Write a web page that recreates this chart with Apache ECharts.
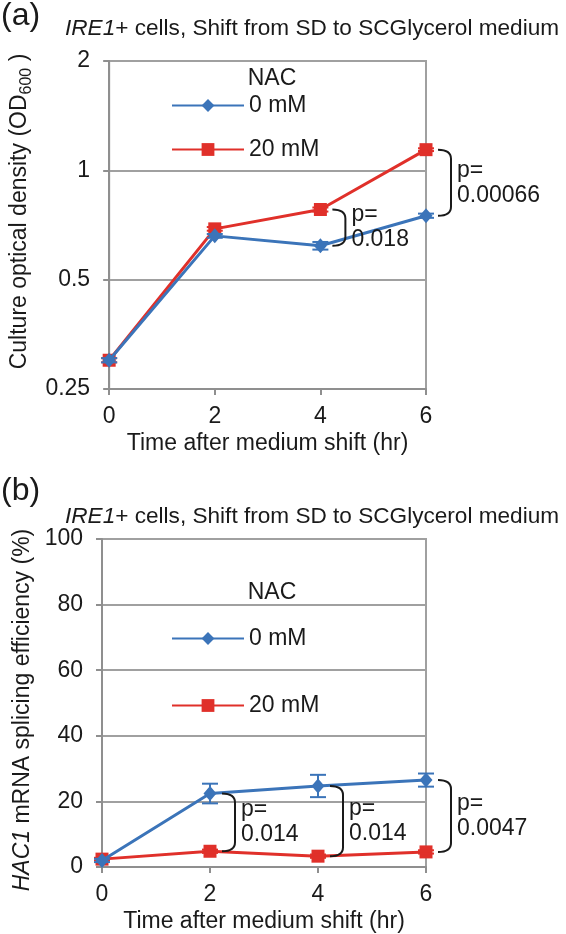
<!DOCTYPE html>
<html><head><meta charset="utf-8">
<script src="https://cdn.jsdelivr.net/npm/echarts@6/dist/echarts.min.js"></script>
<style>html,body{margin:0;padding:0;background:#fff}#c{width:566px;height:934px}</style>
</head><body><div id="c"></div>
<script>
// ---- data ----
const times = [0, 2, 4, 6];
const seriesNames = ['0 mM', '20 mM'];
const odNAC0 = [0.30, 0.66, 0.62, 0.75];
const odNAC0Err = [0.004, 0.008, 0.015, 0.01];
const odNAC20 = [0.30, 0.69, 0.78, 1.14];
const odNAC20Err = [0.004, 0.008, 0.01, 0.01];
const splNAC0 = [2.0, 22.4, 24.7, 26.5];
const splNAC0Err = [0.5, 3.0, 3.4, 2.0];
const splNAC20 = [2.4, 4.8, 3.3, 4.6];
const splNAC20Err = [0.4, 0.5, 0.5, 0.5];
const odTicks = [0.25, 0.5, 1, 2];
const splTicks = [0, 20, 40, 60, 80, 100];
const timeTicks = [0, 2, 4, 6];
const pValuesA = [[4, '0.018'], [6, '0.00066']];
const pValuesB = [[2, '0.014'], [4, '0.014'], [6, '0.0047']];

// ---- style ----
const FONT = '"Liberation Sans", Arial, sans-serif';
const FS = 23;
const TXT = '#1a1a1a';
const BLUE = '#3b74b9';
const RED = '#e0302a';
const AXC = '#8f8f8f';
const GRC = '#a0a0a0';

function pairs(xs, ys) { return xs.map((x, i) => [x, ys[i]]); }
function errData(xs, ys, es) { return xs.map((x, i) => [x, ys[i] - es[i], ys[i] + es[i]]); }

function errSeries(idx, data, color) {
  return {
    type: 'custom', xAxisIndex: idx, yAxisIndex: idx, data: data, z: 3,
    encode: { x: 0, y: [1, 2] }, silent: true,
    renderItem: function (params, api) {
      const x = api.value(0);
      const a = api.coord([x, api.value(1)]);
      const b = api.coord([x, api.value(2)]);
      const w = 8;
      const st = { stroke: color, lineWidth: 2 };
      return { type: 'group', children: [
        { type: 'line', shape: { x1: a[0], y1: a[1], x2: b[0], y2: b[1] }, style: st },
        { type: 'line', shape: { x1: a[0] - w, y1: a[1], x2: a[0] + w, y2: a[1] }, style: st },
        { type: 'line', shape: { x1: b[0] - w, y1: b[1], x2: b[0] + w, y2: b[1] }, style: st }
      ]};
    }
  };
}

function bracketSeries(idx, pv, hiArr, loArr) {
  const data = pv.map(p => { const i = times.indexOf(p[0]); return [p[0], hiArr[i], loArr[i]]; });
  return {
    type: 'custom', xAxisIndex: idx, yAxisIndex: idx, data: data, z: 5, clip: false,
    encode: { x: 0, y: [1, 2] }, silent: true,
    renderItem: function (params, api) {
      const x = api.value(0);
      const t = api.coord([x, api.value(1)]);
      const b = api.coord([x, api.value(2)]);
      const x0 = t[0] + 12, x1 = t[0] + 25, r = 9;
      const d = 'M' + x0 + ' ' + t[1] + ' Q' + x1 + ' ' + t[1] + ' ' + x1 + ' ' + (t[1] + r) +
                ' L' + x1 + ' ' + (b[1] - r) + ' Q' + x1 + ' ' + b[1] + ' ' + x0 + ' ' + b[1];
      return { type: 'group', children: [
        { type: 'path', shape: { pathData: d }, style: { stroke: TXT, fill: null, lineWidth: 2 } },
        { type: 'text', x: t[0] + 31, y: (t[1] + b[1]) / 2,
          style: { text: 'p=\n' + pv[params.dataIndex][1], font: FS + 'px ' + FONT, fill: TXT,
                   align: 'left', verticalAlign: 'middle', lineHeight: 25 } }
      ]};
    }
  };
}

function lineSeries(idx, name, data, color, symbol, size, z) {
  return {
    type: 'line', name: name, xAxisIndex: idx, yAxisIndex: idx, data: data, z: z,
    symbol: symbol, symbolSize: size, showSymbol: true,
    lineStyle: { color: color, width: 3 }, itemStyle: { color: color },
    animation: false
  };
}

const axisCommon = {
  axisLine: { show: true, lineStyle: { color: AXC, width: 2 } },
  axisTick: { show: true, inside: false, length: 6, lineStyle: { color: AXC, width: 2 } },
  axisLabel: { fontFamily: FONT, fontSize: FS, color: TXT },
  splitLine: { show: false },
  nameTextStyle: { fontFamily: FONT, fontSize: FS, color: TXT }
};

function xAxisDef(idx) {
  return Object.assign({}, axisCommon, {
    type: 'value', gridIndex: idx, min: timeTicks[0], max: timeTicks[timeTicks.length - 1], interval: 2,
    name: 'Time after medium shift (hr)', nameLocation: 'middle', nameGap: 43,
    axisLabel: Object.assign({}, axisCommon.axisLabel, { margin: 16 })
  });
}

const titleStyle = { fontFamily: FONT, fontSize: 22.6, fontWeight: 'normal', color: TXT, lineHeight: 23,
  rich: { i: { fontFamily: FONT, fontSize: 22.6, fontStyle: 'italic', color: TXT, lineHeight: 23 } } };
const labelStyle = { fontFamily: FONT, fontSize: 32, fontWeight: 'normal', color: TXT, lineHeight: 32 };
const nacStyle = { fontFamily: FONT, fontSize: FS, fontWeight: 'normal', color: TXT, lineHeight: 23 };
const legendText = { fontFamily: FONT, fontSize: FS, color: TXT, lineHeight: 23 };

const chart = echarts.init(document.getElementById('c'), null, { renderer: 'canvas' });
const option = {
  animation: false,
  backgroundColor: '#fff',
  textStyle: { fontFamily: FONT },
  title: [
    { text: '(a)', left: 1, top: 0, padding: 0, textStyle: labelStyle },
    { text: '{i|IRE1}+ cells, Shift from SD to SCGlycerol medium', left: 65, top: 17, padding: 0, textStyle: titleStyle },
    { text: 'NAC', left: 272, top: 67, textAlign: 'center', padding: 0, textStyle: nacStyle },
    { text: '(b)', left: 1, top: 475, padding: 0, textStyle: labelStyle },
    { text: '{i|IRE1}+ cells, Shift from SD to SCGlycerol medium', left: 65, top: 505, padding: 0, textStyle: titleStyle },
    { text: 'NAC', left: 272, top: 581, textAlign: 'center', padding: 0, textStyle: nacStyle }
  ],
  legend: [
    { data: seriesNames, orient: 'vertical', left: 171, top: 94, padding: 0, itemGap: 21,
      itemWidth: 72, itemHeight: 16, textStyle: legendText, selectedMode: false },
    { data: seriesNames, orient: 'vertical', left: 171, top: 627, padding: 0, itemGap: 44,
      itemWidth: 72, itemHeight: 16, textStyle: legendText, selectedMode: false }
  ],
  grid: [
    { left: 102, top: 61, width: 324, height: 328, show: true, borderColor: GRC, borderWidth: 2, backgroundColor: 'transparent' },
    { left: 102, top: 539, width: 324, height: 329, show: true, borderColor: GRC, borderWidth: 2, backgroundColor: 'transparent' }
  ],
  xAxis: [xAxisDef(0), xAxisDef(1)],
  yAxis: [
    Object.assign({}, axisCommon, {
      type: 'log', logBase: 2, gridIndex: 0, min: odTicks[0], max: odTicks[odTicks.length - 1], interval: 1,
      splitLine: { show: true, lineStyle: { color: GRC, width: 2 } },
      axisLabel: Object.assign({}, axisCommon.axisLabel, { margin: 19, formatter: v => String(+v.toFixed(2)) }),
      name: '{t|Culture optical density (OD}{s|600}{t| )}', nameLocation: 'middle', nameGap: 58,
      nameTextStyle: { padding: [0, 0, 0, 27], rich: {
        t: { fontFamily: FONT, fontSize: FS, color: TXT, lineHeight: 30, verticalAlign: 'middle' },
        s: { fontFamily: FONT, fontSize: 16, color: TXT, lineHeight: 30, verticalAlign: 'bottom' } } }
    }),
    Object.assign({}, axisCommon, {
      type: 'value', gridIndex: 1, min: splTicks[0], max: splTicks[splTicks.length - 1], interval: 20,
      splitLine: { show: true, lineStyle: { color: GRC, width: 2 } },
      axisLabel: Object.assign({}, axisCommon.axisLabel, { margin: 19 }),
      name: '{i|HAC1}{t| mRNA splicing efficiency (%)}', nameLocation: 'middle', nameGap: 66,
      nameTextStyle: { padding: [0, 14, 0, 0], rich: {
        t: { fontFamily: FONT, fontSize: FS, color: TXT, lineHeight: 23 },
        i: { fontFamily: FONT, fontSize: FS, color: TXT, fontStyle: 'italic', lineHeight: 23 } } }
    })
  ],
  series: [
    lineSeries(0, seriesNames[1], pairs(times, odNAC20), RED, 'rect', 13, 2),
    lineSeries(0, seriesNames[0], pairs(times, odNAC0), BLUE, 'diamond', [13, 15], 4),
    errSeries(0, errData(times, odNAC20, odNAC20Err), RED),
    errSeries(0, errData(times, odNAC0, odNAC0Err), BLUE),
    bracketSeries(0, pValuesA, odNAC20, odNAC0),
    lineSeries(1, seriesNames[1], pairs(times, splNAC20), RED, 'rect', 13, 2),
    lineSeries(1, seriesNames[0], pairs(times, splNAC0), BLUE, 'diamond', [13, 15], 4),
    errSeries(1, errData(times, splNAC20, splNAC20Err), RED),
    errSeries(1, errData(times, splNAC0, splNAC0Err), BLUE),
    bracketSeries(1, pValuesB, splNAC0, splNAC20)
  ]
};
chart.setOption(option);
</script>
</body></html>
